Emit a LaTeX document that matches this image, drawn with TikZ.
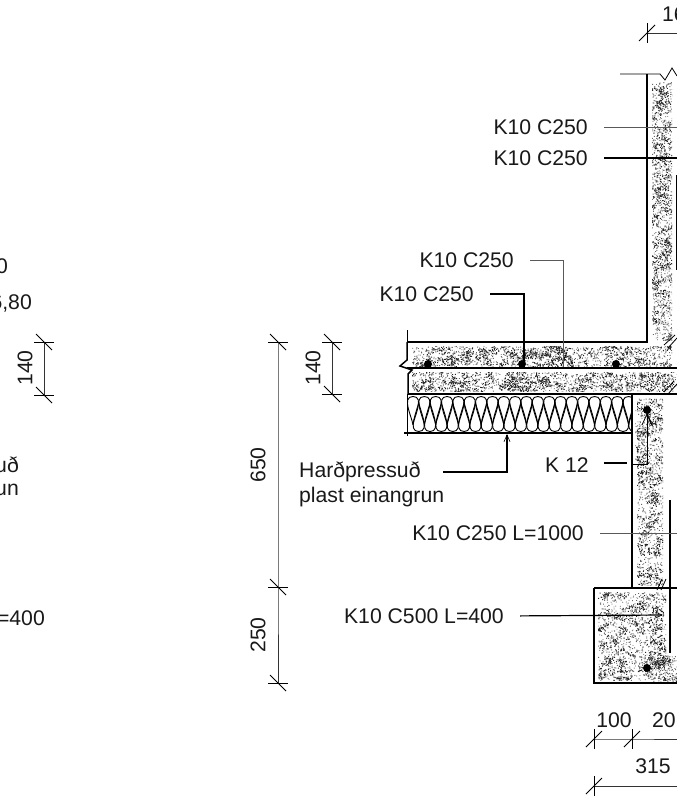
\documentclass[tikz,border=0pt]{standalone}
\usepackage{fontspec}
\setmainfont{Liberation Sans}
\usetikzlibrary{arrows.meta}
\tikzset{
  obj/.style={line width=1.5pt,black},
  thin line/.style={line width=0.8pt,black},
  leader/.style={line width=1.2pt,black,shorten <=16pt},
  gleader/.style={line width=1pt,black!65,shorten <=16pt},
  barb/.style={-{Straight Barb[length=7pt,width=6pt,line width=0.6pt]}},
  lab/.style={inner sep=0pt,font=\fontsize{21.2}{25}\selectfont,text=black!90},
  rot/.style={lab,rotate=90},
  dim/.style={line width=0.8pt,black!80},
  tick/.style={line width=0.8pt,black}
}
% x0 y0 x1 y1 uniform-count cluster-count
\newcommand{\stipplebox}[6]{%
  \begin{scope}
    \clip (#1,#2) rectangle (#3,#4);
    \pgfmathsetmacro{\wdd}{#3-#1}\pgfmathsetmacro{\htt}{#4-#2}
    \fill[black!60] \foreach \i in {1,...,#5} {({#1+rnd*\wdd},{#2+rnd*\htt}) rectangle ++(0.9,0.9)};
    \foreach \j in {1,...,#6} {
      \pgfmathsetmacro{\cx}{#1+rnd*\wdd}\pgfmathsetmacro{\cy}{#2+rnd*\htt}
      \fill[black!85] \foreach \i in {1,...,8} {({\cx+(rnd-rnd)*6},{\cy+(rnd-rnd)*4}) rectangle ++(1,1)};
    }
  \end{scope}}
% vertical dimension tick: horizontal stroke and backslash
\newcommand{\vtick}[2]{%
  \draw[tick] (#1-10,#2) -- (#1+10,#2);
  \draw[tick] (#1-8,#2-8) -- (#1+8,#2+8);}
% horizontal dimension tick: vertical stroke and slash
\newcommand{\htick}[2]{%
  \draw[tick] (#1,#2-10) -- (#1,#2+10);
  \draw[tick] (#1-8,#2+8) -- (#1+8,#2-8);}
\begin{document}
\begin{tikzpicture}[x=1pt,y=-1pt]
\useasboundingbox (0,0) rectangle (677,798);
\pgfmathsetseed{4711}
% concrete
\stipplebox{652}{82}{672}{340}{1000}{100}
\stipplebox{412}{346}{672}{366}{800}{130}
\stipplebox{412}{372}{677}{391}{800}{130}
\stipplebox{637}{398}{663}{585}{750}{85}
\stipplebox{635}{400}{645}{460}{50}{2}
\stipplebox{598}{592}{666}{680}{800}{100}
\stipplebox{648}{655}{677}{681}{150}{16}
% insulation
\begin{scope}
  \clip (408,395) rectangle (632,433);
  \foreach \i in {0,...,19} {
    \pgfmathsetmacro{\xa}{413+\i*11.35}
    \pgfmathsetmacro{\xb}{\xa+5.7}
    \draw[line width=0.9pt] (\xa,425) .. controls (\xa-1,417) and (\xa-12,396.5) .. (\xa,396.5) .. controls (\xa+12,396.5) and (\xa+1,417) .. (\xa,425);
    \draw[line width=0.9pt] (\xb,402) .. controls (\xb-1,410) and (\xb-12,431.5) .. (\xb,431.5) .. controls (\xb+12,431.5) and (\xb+1,410) .. (\xb,402);
  }
\end{scope}
% outlines
\draw[obj] (647,74) -- (647,342) -- (407,342);
\draw[thin line] (407,330) -- (407,342);
\draw[thin line] (620,74) -- (660,74) -- (665,80) -- (672,68) -- (677,76);
\draw[obj] (407,342) -- (407,360) -- (400,366) -- (412,370) -- (408,374) -- (408,394);
\draw[obj] (407,368) -- (677,368);
\draw[obj] (408,394) -- (677,394);
\draw[thin line] (407,394) -- (407,436);
\draw[obj] (404,433) -- (632,433);
\draw[obj] (632,394) -- (632,588);
\draw[obj] (594,588) -- (677,588);
\draw[obj] (594,588) -- (594,683) -- (677,683);
\draw[obj] (670,500) -- (670,653);
\draw[thin line] (676,175) -- (676,270);
\draw[thin line] (677,500) -- (677,553);
\draw[thin line] (633,464) -- (647,464) -- (647,414);
\draw[thin line] (642,425) -- (647,414) -- (652,425);
% rebars
\fill (428,364) circle (4);
\fill (522,364) circle (4);
\fill (616,364) circle (4);
\fill (647,410) circle (4);
\fill (647,668) circle (4);
% hatches
\draw[thin line] (664,345) -- (675,335) (668,348) -- (677,338);
\draw[thin line] (664,392) -- (674,381) (668,394) -- (677,384);
\draw[thin line] (657,590) -- (662,579) (661,590) -- (666,579);
\draw[thin line] (561,366) -- (567,352);
% labels and leaders
\node[lab,anchor=east] (a1) at (588,127) {K10 C250};
\node[lab,anchor=east] (a2) at (588,158) {K10 C250};
\node[lab,anchor=east] (a3) at (514,260) {K10 C250};
\node[lab,anchor=east] (a4) at (474,294) {K10 C250};
\node[lab,anchor=west,align=left] (a5) at (299,484.5) {Harðpressuð\\plast einangrun};
\node[lab,anchor=east] (a6) at (589,465) {K 12};
\node[lab,anchor=east] (a7) at (584,533) {K10 C250 L=1000};
\node[lab,anchor=east] (a8) at (504,616) {K10 C500 L=400};
\coordinate (e1) at (677,127);
\coordinate (e2) at (677,158);
\coordinate (e3a) at (563,260);
\coordinate (e3b) at (563,367);
\coordinate (e4a) at (524,294);
\coordinate (e4b) at (524,364);
\coordinate (e5s) at (443,472);
\coordinate (e5a) at (507,472);
\coordinate (e5b) at (507,434);
\coordinate (e6s) at (589,463);
\coordinate (e6) at (627,463);
\coordinate (e7) at (677,533);
\coordinate (e8) at (663,615);
\draw[gleader] (a1.east) -- (e1);
\draw[leader] (a2.east) -- (e2);
\draw[gleader] (a3.east) -- (e3a) -- (e3b);
\draw[leader] (a4.east) -- (e4a) -- (e4b);
\draw[leader,shorten <=0pt,barb,line width=1.1pt] (e5s) -- (e5a) -- (e5b);
\draw[leader,shorten <=15pt] (e6s) -- (e6);
\draw[gleader] (a7.east) -- (e7);
\draw[leader,barb] (a8.east) -- (e8);
% dimensions
\coordinate (d1) at (278,342); \coordinate (d2) at (278,587); \coordinate (d3) at (278,683);
\draw[dim] (d1) -- (d2) -- (d3);
\vtick{278}{342}\vtick{278}{587}\vtick{278}{683}
\node[rot] (t650) at (258,465) {650};
\node[rot] (t250) at (258,635) {250};
\coordinate (d4) at (332,342); \coordinate (d5) at (332,394);
\draw[dim] (d4) -- (d5);
\vtick{332}{342}\vtick{332}{394}
\node[rot] (t140) at (313,368) {140};
\coordinate (d6) at (44,342); \coordinate (d7) at (44,395);
\draw[dim] (d6) -- (d7);
\vtick{44}{342}\vtick{44}{395}
\node[rot] (t140b) at (25,368) {140};
\coordinate (d8) at (647,33); \coordinate (d9) at (677,33);
\draw[dim] (d8) -- (d9);
\htick{647}{33}
\node[lab,anchor=west] (t16) at (662,14) {16};
\coordinate (d10) at (594,739); \coordinate (d11) at (632,739); \coordinate (d12) at (677,739);
\draw[dim] (d10) -- (d11) -- (d12);
\htick{594}{739}\htick{632}{739}
\node[lab] (t100) at (614,720) {100};
\node[lab,anchor=west] (t20) at (652,720) {20};
\coordinate (d13) at (594,786); \coordinate (d14) at (677,786);
\draw[dim] (d13) -- (d14);
\htick{594}{786}
\node[lab] (t315) at (653,766) {315};
% texts cut by the left edge
\node[lab,anchor=east] (c1) at (8,266) {0};
\node[lab,anchor=east] (c2) at (32,303) {6,80};
\node[lab,anchor=east] (c3) at (19,465) {uð};
\node[lab,anchor=east] (c4) at (19,490) {un};
\node[lab,anchor=east] (c5) at (45,618) {=400};
\end{tikzpicture}
\end{document}
